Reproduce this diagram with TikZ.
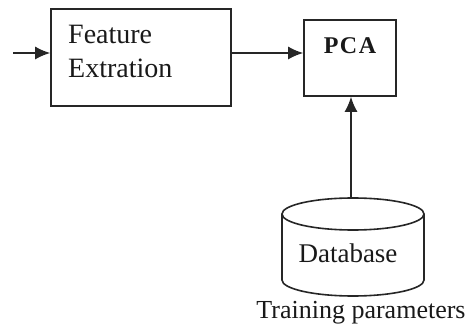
\documentclass[tikz,border=0pt]{standalone}
\usepackage{fontspec}
\setmainfont{Liberation Serif}
\usetikzlibrary{arrows.meta}
\begin{document}
\begin{tikzpicture}[x=1pt,y=-1pt,
  line/.style={draw=black!85, line width=1.6pt},
  blockbox/.style={line, rectangle, inner sep=0pt},
  flow/.style={line, -{Latex[length=15pt,width=13pt]}},
  lbl/.style={inner sep=0pt, text=black!90}]
\useasboundingbox (0,0) rectangle (469,331);

% processing blocks
\node[blockbox, minimum width=180pt, minimum height=97pt] (fe) at (141,57.5) {};
\node[lbl, anchor=north west, align=left, font=\fontsize{28}{34}\selectfont] (fetext) at (68,25) {Feature\\Extration};
\node[blockbox, minimum width=92pt, minimum height=76pt] (pca) at (350,58) {};
\node[lbl, font=\fontsize{24}{30}\selectfont\bfseries] (pcatext) at (350,46) {P\kern1.5pt C\kern1.5pt A};

% database cylinder
\def\cx{353}\def\rx{71}\def\ry{16}
\draw[line] (\cx,214) ellipse [x radius=\rx, y radius=\ry];
\draw[line] (\cx-\rx,214) -- (\cx-\rx,280) arc[start angle=180, end angle=360, x radius=\rx, y radius=-\ry] -- (\cx+\rx,214);
\coordinate (dbtop) at (351,198);
\node[lbl, font=\fontsize{27}{32}\selectfont] (dbtext) at (348,253) {Database};
\node[lbl, font=\fontsize{26}{31}\selectfont] (train) at (361,313) {Training parameters};

% connectors
\coordinate (in) at (13,53);
\draw[flow] (in) -- (fe.west |- in);
\draw[flow] (fe.east |- 0,53) -- (pca.west |- 0,53);
\draw[flow] (dbtop) -- (dbtop |- pca.south);
\end{tikzpicture}
\end{document}
